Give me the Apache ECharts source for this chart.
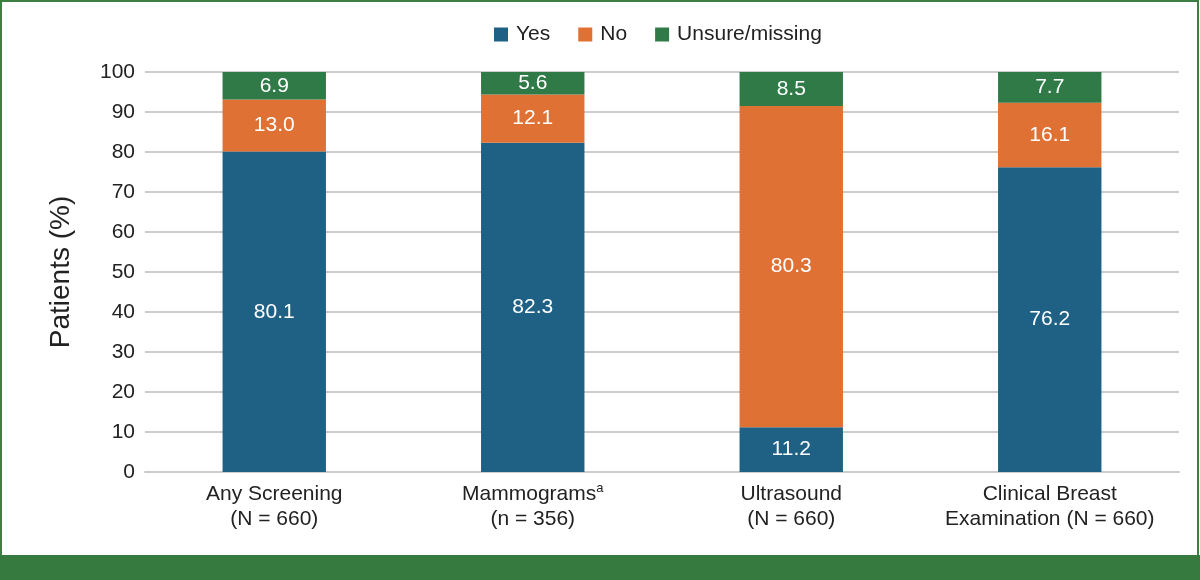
<!DOCTYPE html>
<html>
<head>
<meta charset="utf-8">
<script src="https://cdn.jsdelivr.net/npm/echarts@6/dist/echarts.min.js"></script>
<style>
html,body{margin:0;padding:0;background:#fff;}
#chart{width:1200px;height:580px;}
</style>
</head>
<body>
<div id="chart"></div>
<script>
const categories = ['Any Screening\n(N = 660)', 'Mammograms{sup|a}\n(n = 356)', 'Ultrasound\n(N = 660)', 'Clinical Breast\nExamination (N = 660)'];
const seriesNames = ['Yes', 'No', 'Unsure/missing'];
const yesValues = [80.1, 82.3, 11.2, 76.2];
const noValues = [13.0, 12.1, 80.3, 16.1];
const unsureValues = [6.9, 5.6, 8.5, 7.7];
const yTicks = [0, 10, 20, 30, 40, 50, 60, 70, 80, 90, 100];

const colors = ['#1f6184', '#de7133', '#2f7a47'];
const FONT = 'Liberation Sans, Arial, sans-serif';

function barSeries(name, data, color) {
  return {
    name: name,
    type: 'bar',
    stack: 'total',
    data: data,
    barWidth: '40%',
    itemStyle: { color: color },
    label: {
      show: true,
      position: 'inside',
      color: '#fff',
      fontSize: 21,
      fontFamily: FONT,
      formatter: p => p.value.toFixed(1)
    }
  };
}

const chart = echarts.init(document.getElementById('chart'));
chart.setOption({
  animation: false,
  textStyle: { fontFamily: FONT },
  graphic: [
    { type: 'rect', shape: { x: 1, y: 1, width: 1197, height: 578 }, style: { fill: 'none', stroke: '#3b7f43', lineWidth: 2 }, silent: true },
    { type: 'rect', shape: { x: 0, y: 555, width: 1200, height: 25 }, style: { fill: '#377a3f' }, silent: true }
  ],
  legend: {
    data: seriesNames,
    left: 494,
    top: 24,
    padding: 0,
    itemWidth: 14,
    itemHeight: 14,
    itemGap: 28,
    icon: 'rect',
    textStyle: { fontSize: 21, color: '#222', fontFamily: FONT, padding: [0, 0, 0, 3] }
  },
  grid: { left: 145, right: 21, top: 72, bottom: 108 },
  xAxis: {
    type: 'category',
    data: categories,
    axisLine: { lineStyle: { color: '#cccccc', width: 2 } },
    axisTick: { show: false },
    axisLabel: {
      interval: 0,
      fontSize: 21,
      lineHeight: 25,
      color: '#222',
      margin: 10,
      fontFamily: FONT,
      rich: {
        sup: { fontSize: 13, verticalAlign: 'top', padding: [0, 0, 10, 0], color: '#222', fontFamily: FONT }
      }
    }
  },
  yAxis: {
    type: 'value',
    min: 0,
    max: 100,
    interval: 10,
    name: 'Patients (%)',
    nameLocation: 'middle',
    nameGap: 70,
    nameRotate: 90,
    nameTextStyle: { fontSize: 28, color: '#222', fontFamily: FONT },
    axisLine: { show: false },
    axisTick: { show: false },
    axisLabel: {
      fontSize: 21,
      color: '#222',
      margin: 10,
      fontFamily: FONT,
      formatter: v => yTicks.includes(v) ? String(v) : ''
    },
    splitLine: { lineStyle: { color: '#cccccc', width: 2 } }
  },
  series: [
    barSeries(seriesNames[0], yesValues, colors[0]),
    barSeries(seriesNames[1], noValues, colors[1]),
    barSeries(seriesNames[2], unsureValues, colors[2])
  ]
});
</script>
</body>
</html>
